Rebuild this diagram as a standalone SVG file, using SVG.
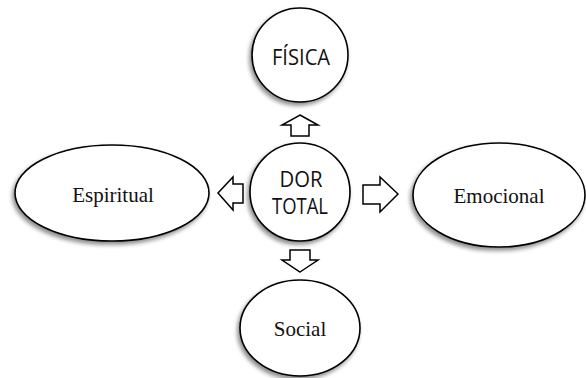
<svg xmlns="http://www.w3.org/2000/svg" width="586" height="378" viewBox="0 0 586 378">
<defs>
<filter id="sh" x="-20%" y="-20%" width="140%" height="140%">
<feDropShadow dx="-2" dy="3" stdDeviation="2" flood-color="#000" flood-opacity="0.45"/>
</filter>
</defs>
<style>
.n{fill:#fff;stroke:#000;stroke-width:1.6;filter:url(#sh)}
.s{font-family:"Open Sans","DejaVu Sans",sans-serif;font-size:21px;fill:#111;text-anchor:middle}
.t{font-family:"Liberation Serif","Times New Roman",serif;font-size:21px;fill:#111;text-anchor:middle}
.a{fill:#fff;stroke:#000;stroke-width:1.5;stroke-linejoin:miter}
</style>
<rect width="586" height="378" fill="#fff"/>
<g id="connectors">
<polygon class="a" points="300,115 318,125 309,125 309,136 291,136 291,125 282,125"/>
<polygon class="a" points="218,193 233,177 233,184 243,184 243,203 233,203 233,210"/>
<polygon class="a" points="398,194 380,177 380,185 363,185 363,204 380,204 380,212"/>
<polygon class="a" points="300,272 318,260 310,260 310,250 290,250 290,260 282,260"/>
</g>
<g id="fisica">
<ellipse class="n" cx="300" cy="55" rx="48" ry="47"/>
<text class="s" x="301" y="65" textLength="58" lengthAdjust="spacingAndGlyphs">FÍSICA</text>
</g>
<g id="dor-total">
<ellipse class="n" cx="300" cy="192" rx="50" ry="49"/>
<text class="s" x="301" y="187" textLength="43" lengthAdjust="spacingAndGlyphs">DOR</text>
<text class="s" x="300" y="214" textLength="56" lengthAdjust="spacingAndGlyphs">TOTAL</text>
</g>
<g id="espiritual">
<ellipse class="n" cx="112" cy="193" rx="97" ry="48"/>
<text class="t" x="113" y="202">Espiritual</text>
</g>
<g id="emocional">
<ellipse class="n" cx="499" cy="195" rx="86" ry="52"/>
<text class="t" x="499" y="203">Emocional</text>
</g>
<g id="social">
<ellipse class="n" cx="300" cy="328" rx="60" ry="48"/>
<text class="t" x="300" y="336">Social</text>
</g>
</svg>
